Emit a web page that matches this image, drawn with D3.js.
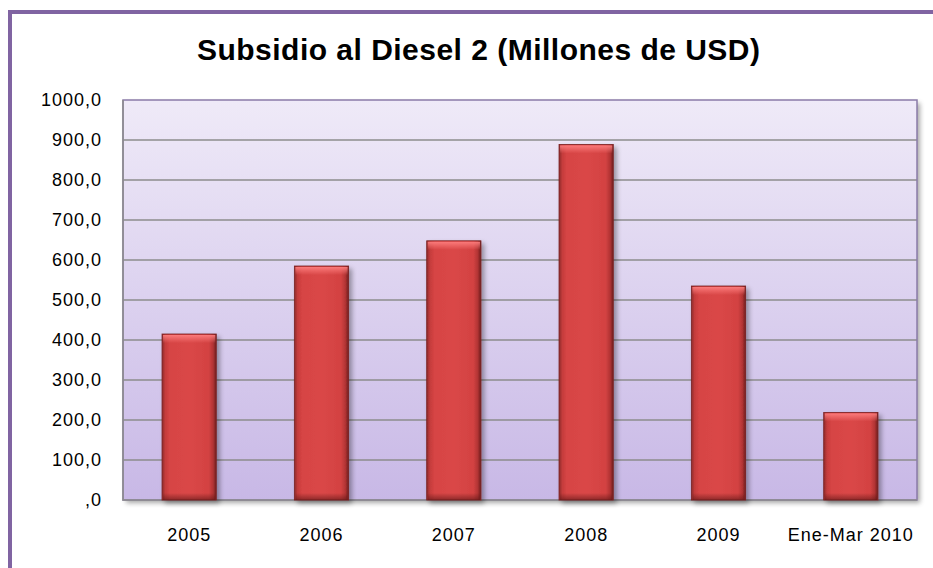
<!DOCTYPE html>
<html><head><meta charset="utf-8">
<script src="https://cdn.jsdelivr.net/npm/d3@7"></script>
<style>body{margin:0;background:#fff}svg{display:block}</style>
</head><body><svg id="c" width="933" height="568"></svg>
<script>
const categories = ["2005","2006","2007","2008","2009","Ene-Mar 2010"];
const values = [415, 585, 648, 889, 535, 219];
const yTicks = [0,100,200,300,400,500,600,700,800,900,1000];
const title = "Subsidio al Diesel 2 (Millones de USD)";

const svg = d3.select("#c");
const W = 933, H = 568;
const m = {l:123, t:100, r:917, b:500};
const defs = svg.append("defs");

const bg = defs.append("linearGradient").attr("id","bg").attr("x1",0).attr("y1",0).attr("x2",0).attr("y2",1);
bg.append("stop").attr("offset","0%").attr("stop-color","#EFEAF8");
bg.append("stop").attr("offset","100%").attr("stop-color","#C8B8E6");

const bh = defs.append("linearGradient").attr("id","barH").attr("x1",0).attr("y1",0).attr("x2",1).attr("y2",0);
[["0%","#8E2A2A"],["6%","#C43C3C"],["14%","#D64444"],["50%","#DA4747"],["86%","#D34242"],["94%","#B23434"],["100%","#6E1E1E"]]
  .forEach(s=>bh.append("stop").attr("offset",s[0]).attr("stop-color",s[1]));
const bv = defs.append("linearGradient").attr("id","barV").attr("x1",0).attr("y1",0).attr("x2",0).attr("y2",1);
bv.append("stop").attr("offset","0%").attr("stop-color","#FF8080").attr("stop-opacity",0.9);
bv.append("stop").attr("offset","100%").attr("stop-color","#FF8080").attr("stop-opacity",0);
const bb = defs.append("linearGradient").attr("id","barB").attr("x1",0).attr("y1",0).attr("x2",0).attr("y2",1);
bb.append("stop").attr("offset","0%").attr("stop-color","#5A1515").attr("stop-opacity",0);
bb.append("stop").attr("offset","100%").attr("stop-color","#5A1515").attr("stop-opacity",0.6);

const shadow = defs.append("filter").attr("id","sh").attr("x","-10%").attr("y","-10%").attr("width","130%").attr("height","130%");
shadow.append("feGaussianBlur").attr("in","SourceAlpha").attr("stdDeviation",2.5);
shadow.append("feOffset").attr("dx",3).attr("dy",3).attr("result","o");
shadow.append("feComponentTransfer").append("feFuncA").attr("type","linear").attr("slope",0.35);
const mg = shadow.append("feMerge"); mg.append("feMergeNode"); mg.append("feMergeNode").attr("in","SourceGraphic");

// outer frame
svg.append("path").attr("d",`M10,${H+5} L10,12 L${W+5},12`).attr("fill","none").attr("stroke","#8064A2").attr("stroke-width",4);

const font = "Liberation Sans, Arial, sans-serif";
// title
svg.append("text").attr("x",197).attr("y",60)
  .attr("textLength",563).attr("lengthAdjust","spacing")
  .attr("font-family",font).attr("font-weight","bold").attr("font-size",30)
  .attr("fill","#000").text(title);

const x = d3.scaleBand().domain(categories).range([m.l,m.r]).paddingInner(0.59).paddingOuter(0.295);
const y = d3.scaleLinear().domain([0,1000]).range([m.b,m.t]);

// plot area
svg.append("rect").attr("x",m.l).attr("y",m.t).attr("width",m.r-m.l).attr("height",m.b-m.t)
  .attr("fill","url(#bg)").attr("filter","url(#sh)");

// grid
svg.append("g").selectAll("line").data(yTicks.filter(d=>d>0&&d<1000)).join("line")
  .attr("x1",m.l).attr("x2",m.r).attr("y1",d=>y(d)).attr("y2",d=>y(d))
  .attr("stroke","#8C8C8C").attr("stroke-width",1.5);

svg.append("rect").attr("x",m.l).attr("y",m.t).attr("width",m.r-m.l).attr("height",m.b-m.t)
  .attr("fill","none").attr("stroke","#8A7BA8").attr("stroke-width",1.5);
svg.append("path").attr("d",`M${m.l},${m.t} V${m.b} H${m.r}`).attr("fill","none").attr("stroke","#8C8C8C").attr("stroke-width",1.5);

// bars
const g = svg.append("g").selectAll("g").data(categories.map((c,i)=>({c,v:values[i]}))).join("g");
g.append("rect").attr("x",d=>x(d.c)).attr("y",d=>y(d.v)).attr("width",x.bandwidth()).attr("height",d=>y(0)-y(d.v))
  .attr("fill","url(#barH)").attr("stroke","#7A2020").attr("stroke-width",0.8).attr("filter","url(#sh)");
g.append("rect").attr("x",d=>x(d.c)+1).attr("y",d=>y(d.v)+1).attr("width",x.bandwidth()-2).attr("height",8)
  .attr("fill","url(#barV)");
g.append("rect").attr("x",d=>x(d.c)+1).attr("y",d=>y(0)-7).attr("width",x.bandwidth()-2).attr("height",7)
  .attr("fill","url(#barB)");

// y axis labels
const fmt = d => d===0 ? ",0" : d3.format("d")(d)+",0";
const ya = d3.axisLeft(y).tickValues(yTicks).tickFormat(fmt).tickSize(0).tickPadding(21);
const yg = svg.append("g").attr("transform",`translate(${m.l},0)`).call(ya);
yg.select(".domain").remove();
yg.selectAll("text").attr("font-family",font).attr("font-size",18).attr("letter-spacing",1).attr("fill","#000");

// x axis labels
const xa = d3.axisBottom(x).tickSize(0).tickPadding(28);
const xg = svg.append("g").attr("transform",`translate(0,${m.b})`).call(xa);
xg.select(".domain").remove();
xg.selectAll("text").attr("font-family",font).attr("font-size",18).attr("letter-spacing",1).attr("fill","#000");
</script></body></html>
